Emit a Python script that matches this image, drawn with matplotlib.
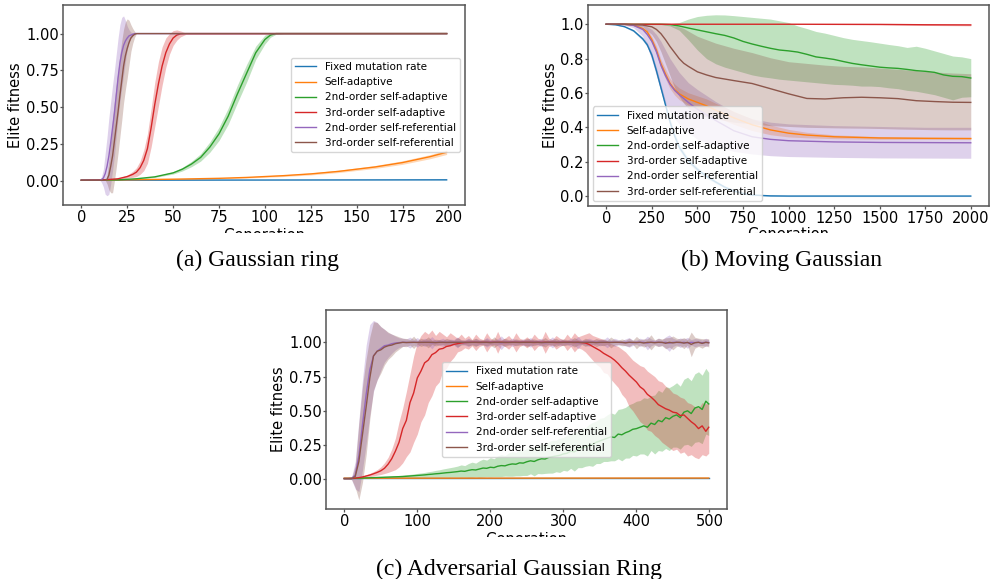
import matplotlib
matplotlib.use("Agg")
import matplotlib.pyplot as plt
from matplotlib.patches import Rectangle
import numpy as np

W, H = 992, 579
labels = ["Fixed mutation rate", "Self-adaptive", "2nd-order self-adaptive",
          "3rd-order self-adaptive", "2nd-order self-referential", "3rd-order self-referential"]
colors = ["#1f77b4", "#ff7f0e", "#2ca02c", "#d62728", "#9467bd", "#8c564b"]
captions = ["(a) Gaussian ring", "(b) Moving Gaussian", "(c) Adversarial Gaussian Ring"]

# ---------------- (a) Gaussian ring ----------------
blue_a_gen = [0, 199]
blue_a = [0.005, 0.008]
blue_a_sd = [0.001, 0.002]

orange_a_gen = [0, 25, 50, 75, 90, 100, 110, 125, 140, 150, 160, 175, 190, 199]
orange_a = [0.005, 0.008, 0.012, 0.018, 0.024, 0.03, 0.036, 0.048, 0.065, 0.08, 0.095, 0.125, 0.165, 0.195]
orange_a_sd = [0, 0.001, 0.002, 0.003, 0.004, 0.005, 0.006, 0.007, 0.008, 0.009, 0.01, 0.012, 0.014, 0.015]

green_a_gen = [0, 20, 30, 40, 50, 55, 60, 65, 70, 75, 80, 85, 90, 95, 100, 103, 106, 110, 199]
green_a = [0.005, 0.008, 0.015, 0.028, 0.055, 0.08, 0.115, 0.16, 0.23, 0.32, 0.44, 0.59, 0.73, 0.87, 0.96, 0.99, 1.0, 1.0, 1.0]
green_a_sd = [0, 0.001, 0.002, 0.004, 0.008, 0.012, 0.018, 0.025, 0.035, 0.045, 0.055, 0.06, 0.06, 0.045, 0.03, 0.015, 0.005, 0, 0]

red_a_gen = [0, 10, 15, 20, 25, 28, 30, 32, 34, 36, 38, 40, 42, 44, 46, 48, 50, 52, 54, 57, 199]
red_a = [0.005, 0.007, 0.01, 0.015, 0.03, 0.045, 0.06, 0.09, 0.14, 0.22, 0.36, 0.52, 0.66, 0.78, 0.87, 0.93, 0.97, 0.99, 0.998, 1.0, 1.0]
red_a_sd = [0, 0.001, 0.002, 0.004, 0.01, 0.02, 0.03, 0.045, 0.07, 0.1, 0.13, 0.15, 0.15, 0.13, 0.1, 0.07, 0.05, 0.035, 0.02, 0.005, 0]

purple_a_gen = [0, 10, 11, 12, 13, 14, 15, 16, 17, 18, 19, 20, 21, 22, 23, 24, 25, 26, 27, 28, 29, 30, 199]
purple_a = [0.005, 0.005, 0.01, 0.02, 0.05, 0.1, 0.17, 0.26, 0.36, 0.46, 0.58, 0.7, 0.8, 0.87, 0.92, 0.95,
            0.97, 0.985, 0.99, 0.995, 1.0, 1.0, 1.0]
purple_a_sd = [0, 0, 0.02, 0.06, 0.14, 0.2, 0.26, 0.28, 0.29, 0.29, 0.28, 0.27, 0.26, 0.24, 0.2, 0.14,
               0.08, 0.04, 0.02, 0.01, 0, 0, 0]

brown_a_gen = [0, 13, 14, 15, 16, 17, 18, 19, 20, 21, 22, 23, 24, 25, 26, 27, 28, 29, 30, 31, 199]
brown_a = [0.005, 0.005, 0.01, 0.04, 0.1, 0.17, 0.27, 0.37, 0.47, 0.58, 0.68, 0.78, 0.85, 0.9, 0.94,
           0.97, 0.985, 0.995, 1.0, 1.0, 1.0]
brown_a_sd = [0, 0, 0.03, 0.1, 0.18, 0.25, 0.27, 0.28, 0.28, 0.28, 0.27, 0.25, 0.23, 0.2, 0.15,
              0.09, 0.05, 0.02, 0, 0, 0]

# ---------------- (b) Moving Gaussian ----------------
blue_b_gen = [0, 50, 100, 150, 200, 225, 250, 275, 300, 325, 350, 375, 400, 450, 500, 550, 600, 650,
              700, 750, 800, 900, 1000, 1500, 1999]
blue_b = [1.0, 0.997, 0.986, 0.962, 0.915, 0.88, 0.82, 0.73, 0.63, 0.53, 0.43, 0.35, 0.285, 0.205,
          0.155, 0.115, 0.082, 0.052, 0.03, 0.015, 0.006, 0.001, 0.0, 0.0, 0.0]
blue_b_sd = [0, 0.001, 0.003, 0.006, 0.01, 0.012, 0.015, 0.018, 0.02, 0.02, 0.02, 0.018, 0.016, 0.014,
             0.012, 0.01, 0.008, 0.006, 0.005, 0.004, 0.003, 0.003, 0.003, 0.003, 0.003]

orange_b_gen = [0, 100, 150, 200, 225, 250, 275, 300, 325, 350, 375, 400, 450, 500, 550, 600, 700,
                800, 900, 1000, 1100, 1250, 1500, 1750, 1999]
orange_b = [1.0, 0.999, 0.995, 0.975, 0.955, 0.91, 0.85, 0.77, 0.71, 0.655, 0.62, 0.595, 0.565, 0.545,
            0.525, 0.5, 0.455, 0.415, 0.385, 0.366, 0.355, 0.345, 0.338, 0.336, 0.335]
orange_b_sd = [0, 0.001, 0.003, 0.008, 0.012, 0.018, 0.022, 0.025, 0.028, 0.03, 0.032, 0.034, 0.036,
               0.038, 0.04, 0.04, 0.038, 0.034, 0.028, 0.022, 0.016, 0.011, 0.008, 0.006, 0.005]

green_b_gen = [0, 200, 300, 350, 400, 450, 500, 550, 600, 650, 700, 750, 800, 850, 900, 950, 1000,
               1050, 1100, 1150, 1200, 1250, 1300, 1350, 1400, 1450, 1500, 1550, 1600, 1650, 1700,
               1750, 1800, 1850, 1900, 1950, 1999]
green_b = [1.0, 1.0, 1.0, 0.998, 0.99, 0.978, 0.967, 0.956, 0.945, 0.935, 0.92, 0.9, 0.885, 0.872,
           0.86, 0.85, 0.845, 0.838, 0.825, 0.81, 0.803, 0.795, 0.783, 0.772, 0.764, 0.757, 0.75,
           0.746, 0.743, 0.737, 0.73, 0.726, 0.72, 0.705, 0.697, 0.695, 0.687]
green_b_hi = [1.0, 1.0, 1.0, 1.003, 1.01, 1.03, 1.045, 1.052, 1.055, 1.054, 1.05, 1.045, 1.04, 1.035,
              1.03, 1.02, 1.01, 0.99, 0.975, 0.958, 0.948, 0.935, 0.922, 0.912, 0.905, 0.898, 0.89,
              0.882, 0.875, 0.865, 0.872, 0.86, 0.845, 0.83, 0.815, 0.81, 0.80]
green_b_lo = [1.0, 1.0, 0.998, 0.99, 0.965, 0.91, 0.85, 0.8, 0.77, 0.75, 0.735, 0.72, 0.705, 0.695,
              0.688, 0.68, 0.675, 0.67, 0.665, 0.66, 0.655, 0.65, 0.648, 0.645, 0.64, 0.64, 0.637,
              0.63, 0.625, 0.615, 0.61, 0.6, 0.59, 0.575, 0.56, 0.575, 0.578]

red_b_gen = [0, 1000, 1500, 1750, 1999]
red_b = [1.0, 1.0, 0.999, 0.997, 0.996]
red_b_sd = [0, 0.001, 0.002, 0.004, 0.005]

purple_b_gen = [0, 100, 150, 200, 225, 250, 275, 300, 325, 350, 375, 400, 450, 500, 600, 700, 800,
                900, 1000, 1250, 1500, 1750, 1999]
purple_b = [1.0, 0.999, 0.993, 0.97, 0.94, 0.9, 0.84, 0.76, 0.70, 0.65, 0.615, 0.59, 0.545, 0.505,
            0.44, 0.38, 0.345, 0.33, 0.322, 0.315, 0.312, 0.311, 0.31]
purple_b_lo = [1.0, 0.995, 0.98, 0.93, 0.87, 0.79, 0.7, 0.61, 0.54, 0.49, 0.45, 0.42, 0.37, 0.33,
               0.29, 0.26, 0.245, 0.235, 0.23, 0.225, 0.222, 0.221, 0.22]
purple_b_hi = [1.0, 1.0, 1.0, 0.995, 0.985, 0.97, 0.94, 0.9, 0.85, 0.8, 0.76, 0.72, 0.66, 0.62, 0.55,
               0.49, 0.45, 0.43, 0.42, 0.41, 0.405, 0.40, 0.40]

brown_b_gen = [0, 100, 200, 250, 275, 300, 325, 350, 375, 400, 425, 450, 500, 550, 600, 700, 800,
               900, 1000, 1100, 1200, 1300, 1400, 1500, 1600, 1700, 1800, 1900, 1999]
brown_b = [1.0, 1.0, 0.995, 0.985, 0.97, 0.945, 0.91, 0.87, 0.835, 0.8, 0.773, 0.755, 0.723, 0.705,
           0.69, 0.672, 0.655, 0.625, 0.595, 0.568, 0.565, 0.572, 0.575, 0.572, 0.567, 0.555, 0.55,
           0.546, 0.545]
brown_b_lo = [1.0, 1.0, 0.985, 0.94, 0.9, 0.84, 0.77, 0.7, 0.63, 0.58, 0.54, 0.51, 0.48, 0.46, 0.45,
              0.43, 0.42, 0.41, 0.405, 0.4, 0.398, 0.396, 0.395, 0.393, 0.39, 0.388, 0.386, 0.385, 0.385]
brown_b_hi = [1.0, 1.0, 1.0, 1.0, 1.0, 1.0, 0.998, 0.995, 0.99, 0.985, 0.975, 0.96, 0.93, 0.91, 0.89,
              0.86, 0.835, 0.805, 0.782, 0.772, 0.762, 0.755, 0.752, 0.745, 0.738, 0.73, 0.722,
              0.716, 0.712]

# ---------------- (c) Adversarial Gaussian Ring ----------------
gen_c = list(range(0, 500, 5)) + [499]

blue_c_gen = [0, 499]
blue_c = [0.008, 0.008]
orange_c_gen = [0, 499]
orange_c = [0.008, 0.009]

green_c = [
    0.005, 0.005, 0.006, 0.007, 0.008, 0.009, 0.01, 0.011, 0.012, 0.013,
    0.014, 0.015, 0.016, 0.017, 0.018, 0.019, 0.02, 0.022, 0.024, 0.026,
    0.028, 0.03, 0.032, 0.035, 0.037, 0.04, 0.042, 0.045, 0.048, 0.05,
    0.053, 0.056, 0.06, 0.058, 0.065, 0.07, 0.068, 0.075, 0.082, 0.08,
    0.088, 0.085, 0.095, 0.1, 0.098, 0.107, 0.112, 0.11, 0.12, 0.118,
    0.128, 0.135, 0.13, 0.142, 0.15, 0.148, 0.16, 0.165, 0.17, 0.175,
    0.185, 0.19, 0.205, 0.2, 0.22, 0.23, 0.235, 0.25, 0.255, 0.27,
    0.28, 0.29, 0.30, 0.31, 0.305, 0.33, 0.325, 0.34, 0.35, 0.365,
    0.37, 0.38, 0.39, 0.38, 0.41, 0.40, 0.43, 0.42, 0.45, 0.44,
    0.46, 0.47, 0.45, 0.49, 0.5, 0.48, 0.52, 0.53, 0.51, 0.57,
    0.55]
green_c_sd = [
    0, 0, 0.001, 0.001, 0.002, 0.002, 0.003, 0.003, 0.004, 0.004,
    0.005, 0.006, 0.006, 0.007, 0.008, 0.009, 0.01, 0.011, 0.012, 0.013,
    0.015, 0.016, 0.018, 0.02, 0.022, 0.025, 0.027, 0.03, 0.032, 0.035,
    0.037, 0.04, 0.045, 0.042, 0.05, 0.055, 0.05, 0.06, 0.065, 0.06,
    0.07, 0.065, 0.075, 0.08, 0.075, 0.085, 0.09, 0.085, 0.095, 0.09,
    0.1, 0.095, 0.105, 0.1, 0.11, 0.105, 0.115, 0.12, 0.115, 0.125,
    0.12, 0.13, 0.125, 0.14, 0.135, 0.145, 0.14, 0.15, 0.16, 0.155,
    0.165, 0.16, 0.17, 0.175, 0.17, 0.18, 0.19, 0.185, 0.195, 0.19,
    0.2, 0.195, 0.205, 0.21, 0.2, 0.215, 0.22, 0.215, 0.225, 0.23,
    0.225, 0.235, 0.23, 0.24, 0.245, 0.24, 0.25, 0.255, 0.25, 0.24,
    0.23]

red_c = [
    0.005, 0.005, 0.006, 0.008, 0.012, 0.017, 0.024, 0.031, 0.04, 0.05,
    0.062, 0.08, 0.11, 0.15, 0.205, 0.27, 0.37, 0.43, 0.56, 0.63,
    0.74, 0.79, 0.85, 0.87, 0.91, 0.925, 0.95, 0.955, 0.97, 0.975,
    0.985, 0.99, 0.995, 0.998, 1.0, 1.0, 1.0, 0.999, 1.0, 1.0,
    1.0, 1.0, 1.0, 1.0, 0.999, 1.0, 1.0, 1.0, 1.0, 1.0,
    1.0, 1.0, 0.999, 1.0, 1.0, 1.0, 1.0, 1.0, 0.999, 1.0,
    1.0, 1.0, 1.0, 0.999, 1.0, 0.998, 0.995, 0.985, 0.97, 0.955,
    0.94, 0.92, 0.905, 0.89, 0.87, 0.845, 0.815, 0.79, 0.76, 0.735,
    0.71, 0.675, 0.655, 0.62, 0.60, 0.575, 0.545, 0.53, 0.515, 0.505,
    0.49, 0.485, 0.465, 0.47, 0.445, 0.42, 0.40, 0.37, 0.39, 0.35,
    0.38]
red_c_lo = [
    0.004, 0.004, 0.005, 0.006, 0.008, 0.011, 0.015, 0.019, 0.024, 0.03,
    0.035, 0.042, 0.05, 0.06, 0.07, 0.09, 0.12, 0.165, 0.2, 0.27,
    0.33, 0.42, 0.47, 0.56, 0.61, 0.68, 0.71, 0.79, 0.81, 0.86,
    0.89, 0.93, 0.94, 0.96, 0.95, 0.975, 0.94, 0.97, 0.98, 0.93,
    0.97, 0.98, 0.92, 0.98, 0.97, 0.95, 0.98, 0.93, 0.97, 0.98,
    0.96, 0.98, 0.94, 0.97, 0.98, 0.92, 0.97, 0.98, 0.95, 0.97,
    0.98, 0.94, 0.97, 0.93, 0.96, 0.95, 0.93, 0.9, 0.87, 0.84,
    0.82, 0.78, 0.77, 0.73, 0.7, 0.67, 0.62, 0.59, 0.53, 0.5,
    0.46, 0.42, 0.4, 0.36, 0.35, 0.32, 0.3, 0.27, 0.25, 0.23,
    0.21, 0.22, 0.19, 0.2, 0.17, 0.18, 0.16, 0.15, 0.18, 0.17,
    0.19]
red_c_hi = [
    0.006, 0.006, 0.007, 0.01, 0.016, 0.023, 0.033, 0.043, 0.056, 0.07,
    0.09, 0.12, 0.16, 0.22, 0.3, 0.42, 0.52, 0.64, 0.77, 0.9,
    1.0, 1.05, 1.08, 1.06, 1.09, 1.05, 1.08, 1.06, 1.04, 1.07,
    1.05, 1.03, 1.06, 1.03, 1.05, 1.02, 1.06, 1.03, 1.02, 1.07,
    1.03, 1.02, 1.08, 1.02, 1.03, 1.05, 1.02, 1.07, 1.03, 1.02,
    1.04, 1.02, 1.06, 1.03, 1.02, 1.08, 1.03, 1.02, 1.05, 1.03,
    1.02, 1.06, 1.03, 1.07, 1.04, 1.05, 1.06, 1.07, 1.05, 1.04,
    1.03, 1.02, 1.01, 0.99, 0.98, 0.97, 0.95, 0.93, 0.9, 0.87,
    0.85, 0.83, 0.82, 0.79, 0.77, 0.75, 0.72, 0.71, 0.68, 0.66,
    0.63, 0.62, 0.6, 0.59, 0.56, 0.55, 0.53, 0.52, 0.56, 0.55,
    0.56]

purple_c = [
    0.005, 0.005, 0.006, 0.03, 0.17, 0.4, 0.62, 0.8, 0.9, 0.935,
    0.955, 0.975, 0.98, 0.99, 0.995, 0.998, 1.0,
    1.0, 0.998, 1.0, 1.0, 0.999, 1.0, 1.0, 0.997, 1.0, 1.0,
    1.0, 1.0, 0.999, 1.0, 1.0, 1.0, 0.998, 1.0, 1.0, 1.0,
    1.0, 0.999, 1.0, 1.0, 1.0, 1.0, 0.997, 1.0, 1.0, 1.0,
    1.0, 1.0, 1.0, 0.999, 1.0, 1.0, 1.0, 1.0, 0.998, 1.0,
    1.0, 1.0, 1.0, 1.0, 0.999, 1.0, 1.0, 0.998, 1.0, 1.0,
    1.0, 1.0, 1.0, 0.999, 1.0, 1.0, 1.0, 1.0, 1.0, 0.998,
    1.0, 1.0, 0.997, 1.0, 1.0, 1.0, 0.995, 1.0, 1.0, 1.0,
    0.998, 1.0, 0.994, 1.0, 1.0, 0.997, 1.0, 0.996, 1.0, 0.998,
    1.0, 0.997, 1.0, 0.999]
purple_c_sd = [
    0, 0, 0.01, 0.1, 0.26, 0.33, 0.36, 0.33, 0.26, 0.21,
    0.16, 0.12, 0.09, 0.07, 0.05, 0.035, 0.03,
    0.025, 0.04, 0.02, 0.035, 0.015, 0.03, 0.02, 0.045, 0.015, 0.02,
    0.03, 0.015, 0.025, 0.02, 0.04, 0.015, 0.02, 0.03, 0.015, 0.025,
    0.02, 0.015, 0.035, 0.02, 0.015, 0.025, 0.05, 0.02, 0.015, 0.03,
    0.02, 0.015, 0.025, 0.02, 0.035, 0.015, 0.02, 0.03, 0.015, 0.02,
    0.04, 0.015, 0.025, 0.02, 0.015, 0.03, 0.02, 0.045, 0.015, 0.02,
    0.03, 0.02, 0.015, 0.025, 0.02, 0.04, 0.015, 0.03, 0.02, 0.015,
    0.025, 0.035, 0.02, 0.015, 0.03, 0.02, 0.05, 0.025, 0.015, 0.03,
    0.02, 0.04, 0.06, 0.03, 0.02, 0.035, 0.025, 0.04, 0.02, 0.03,
    0.025, 0.02, 0.03, 0.02]

brown_c = [
    0.005, 0.005, 0.005, 0.02, 0.13, 0.33, 0.53, 0.74, 0.9, 0.935,
    0.945, 0.965, 0.975, 0.98, 0.99, 0.995, 1.0,
    0.998, 1.0, 1.0, 0.999, 1.0, 1.0, 1.0, 1.0, 0.998, 1.0,
    1.0, 0.999, 1.0, 1.0, 1.0, 1.0, 1.0, 0.999, 1.0, 1.0,
    1.0, 1.0, 1.0, 0.998, 1.0, 1.0, 1.0, 1.0, 0.999, 1.0,
    1.0, 0.999, 1.0, 1.0, 1.0, 1.0, 1.0, 0.998, 1.0, 1.0,
    1.0, 1.0, 0.999, 1.0, 1.0, 1.0, 1.0, 1.0, 0.999, 1.0,
    1.0, 1.0, 0.998, 1.0, 1.0, 1.0, 0.999, 1.0, 1.0, 1.0,
    0.996, 1.0, 1.0, 0.998, 1.0, 0.995, 1.0, 1.0, 0.997, 1.0,
    1.0, 0.993, 1.0, 0.996, 1.0, 1.0, 0.994, 1.0, 0.985, 0.997,
    1.0, 0.992, 1.0, 0.996]
brown_c_sd = [
    0, 0, 0.005, 0.08, 0.28, 0.35, 0.35, 0.3, 0.25, 0.21,
    0.17, 0.13, 0.1, 0.08, 0.06, 0.045, 0.03,
    0.03, 0.02, 0.045, 0.015, 0.03, 0.02, 0.04, 0.015, 0.025, 0.02,
    0.015, 0.03, 0.02, 0.015, 0.035, 0.02, 0.015, 0.025, 0.02, 0.03,
    0.015, 0.02, 0.025, 0.015, 0.04, 0.02, 0.015, 0.03, 0.02, 0.015,
    0.025, 0.02, 0.015, 0.03, 0.02, 0.025, 0.015, 0.02, 0.035, 0.015,
    0.02, 0.03, 0.015, 0.025, 0.02, 0.015, 0.035, 0.02, 0.015, 0.03,
    0.02, 0.015, 0.03, 0.02, 0.025, 0.015, 0.04, 0.02, 0.015, 0.025,
    0.02, 0.03, 0.015, 0.045, 0.02, 0.03, 0.025, 0.055, 0.02, 0.03,
    0.025, 0.04, 0.035, 0.05, 0.03, 0.025, 0.04, 0.02, 0.09, 0.04,
    0.03, 0.035, 0.025, 0.03]

# ---------------- drawing ----------------
fig = plt.figure(figsize=(W / 100, H / 100), dpi=100)
fig.patch.set_facecolor("white")

SPINE = "#555555"


def make_ax(l, t, r, b, label_top):
    ax = fig.add_axes([l / W, 1 - b / H, (r - l) / W, (b - t) / H])
    for s in ax.spines.values():
        s.set_color(SPINE)
        s.set_linewidth(1.1)
    ax.tick_params(axis="x", labelsize=10.5, color=SPINE, width=0.9, length=2.5, pad=1)
    ax.tick_params(axis="y", labelsize=10.5, color=SPINE, width=0.9, length=2.5, pad=0.5)
    ax.set_xlabel("Generation", fontsize=10.5)
    ax.xaxis.set_label_coords(0.5, -(label_top - b) / (b - t))
    ax.set_ylabel("Elite fitness", fontsize=10.5, labelpad=2)
    return ax


def sym(ax, g, m, s, c, lab, lw=1.0):
    g, m, s = np.asarray(g, float), np.asarray(m, float), np.asarray(s, float)
    ax.plot(g, m, color=c, lw=lw, label=lab)
    ax.fill_between(g, m - s, m + s, color=c, alpha=0.3, lw=0)


def band(ax, g, m, lo, hi, c, lab, lw=1.0):
    ax.plot(g, m, color=c, lw=lw, label=lab)
    ax.fill_between(g, lo, hi, color=c, alpha=0.3, lw=0)


# (a)
axa = make_ax(63, 5, 465, 205, 227.5)
sym(axa, blue_a_gen, blue_a, blue_a_sd, colors[0], labels[0])
sym(axa, orange_a_gen, orange_a, orange_a_sd, colors[1], labels[1])
sym(axa, green_a_gen, green_a, green_a_sd, colors[2], labels[2])
sym(axa, red_a_gen, red_a, red_a_sd, colors[3], labels[3])
sym(axa, purple_a_gen, purple_a, purple_a_sd, colors[4], labels[4])
sym(axa, brown_a_gen, brown_a, brown_a_sd, colors[5], labels[5])
axa.set_xlim(-10, 209)
axa.set_ylim(-0.163, 1.194)
axa.set_xticks([0, 25, 50, 75, 100, 125, 150, 175, 200])
axa.set_yticks([0.0, 0.25, 0.5, 0.75, 1.0])
axa.yaxis.set_major_formatter(matplotlib.ticker.FormatStrFormatter("%.2f"))
axa.legend(loc="center right", fontsize=7.5)

# (b)
axb = make_ax(588, 5, 989, 206, 226.7)
sym(axb, blue_b_gen, blue_b, blue_b_sd, colors[0], labels[0])
sym(axb, orange_b_gen, orange_b, orange_b_sd, colors[1], labels[1])
band(axb, green_b_gen, green_b, green_b_lo, green_b_hi, colors[2], labels[2])
sym(axb, red_b_gen, red_b, red_b_sd, colors[3], labels[3])
band(axb, purple_b_gen, purple_b, purple_b_lo, purple_b_hi, colors[4], labels[4])
band(axb, brown_b_gen, brown_b, brown_b_lo, brown_b_hi, colors[5], labels[5])
axb.set_xlim(-100, 2099)
axb.set_ylim(-0.058, 1.112)
axb.set_xticks([0, 250, 500, 750, 1000, 1250, 1500, 1750, 2000])
axb.set_yticks([0.0, 0.2, 0.4, 0.6, 0.8, 1.0])
axb.yaxis.set_major_formatter(matplotlib.ticker.FormatStrFormatter("%.1f"))
axb.legend(loc="lower left", fontsize=7.5)

# (c)
axc = make_ax(326, 310, 727, 509, 531.7)
axc.plot(blue_c_gen, blue_c, color=colors[0], lw=1.0, label=labels[0])
axc.plot(orange_c_gen, orange_c, color=colors[1], lw=1.0, label=labels[1])
sym(axc, gen_c, green_c, green_c_sd, colors[2], labels[2])
band(axc, gen_c, red_c, red_c_lo, red_c_hi, colors[3], labels[3])
sym(axc, gen_c, purple_c, purple_c_sd, colors[4], labels[4])
sym(axc, gen_c, brown_c, brown_c_sd, colors[5], labels[5])
axc.set_xlim(-25, 524)
axc.set_ylim(-0.217, 1.236)
axc.set_xticks([0, 100, 200, 300, 400, 500])
axc.set_yticks([0.0, 0.25, 0.5, 0.75, 1.0])
axc.yaxis.set_major_formatter(matplotlib.ticker.FormatStrFormatter("%.2f"))
axc.legend(loc="center", fontsize=7.5)

# crop the lower part of the x labels (as in the source figure)
for (x0, y0, x1, y1) in [(0, 233, W, 247), (0, 537, W, 554)]:
    fig.patches.append(Rectangle((x0 / W, 1 - y1 / H), (x1 - x0) / W, (y1 - y0) / H,
                                 transform=fig.transFigure, facecolor="white",
                                 edgecolor="none", zorder=5))

cap_kw = dict(fontsize=17, family="Liberation Serif", ha="center", va="baseline", zorder=10)
fig.text(258 / W, 1 - 266.5 / H, captions[0], **cap_kw)
fig.text(781.5 / W, 1 - 266 / H, captions[1], **cap_kw)
fig.text(519 / W, 1 - 575.5 / H, captions[2], **cap_kw)

fig.savefig("out.png", dpi=100, facecolor="white")
